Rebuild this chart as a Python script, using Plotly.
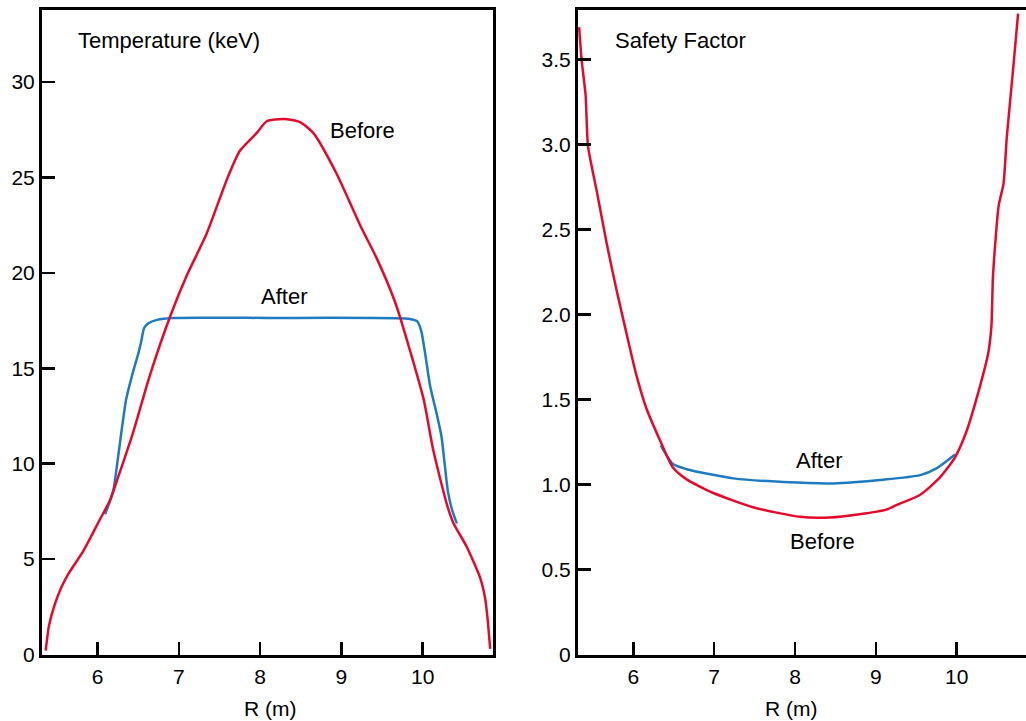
import plotly.graph_objects as go

# ---- data ----
temp_before_r = [5.36, 5.40, 5.47, 5.55, 5.65, 5.82, 6.03, 6.15, 6.25, 6.44, 6.64, 6.89, 7.10, 7.34,
                 7.59, 7.75, 7.96, 8.08, 8.29, 8.49, 8.65, 8.94, 9.23, 9.43, 9.64, 9.72, 10.01, 10.13,
                 10.30, 10.38, 10.54, 10.71, 10.77, 10.80, 10.83]
temp_before = [0.2, 1.5, 2.6, 3.5, 4.3, 5.4, 7.1, 8.07, 9.28, 11.7, 14.6, 17.7, 19.9, 22.05,
               24.9, 26.4, 27.35, 27.95, 28.07, 27.9, 27.35, 25.2, 22.5, 20.8, 18.7, 17.7, 13.4, 10.7,
               7.83, 6.87, 5.66, 3.98, 2.9, 1.8, 0.3]

temp_after_r = [6.09, 6.19, 6.24, 6.30, 6.35, 6.42, 6.50, 6.54, 6.57, 6.62, 6.73, 6.93, 8.08, 9.84,
                9.93, 9.98, 10.03, 10.09, 10.17, 10.23, 10.27, 10.31, 10.36, 10.42]
temp_after = [7.35, 8.55, 10.0, 11.93, 13.37, 14.58, 15.78, 16.5, 17.1, 17.35, 17.54, 17.64, 17.64, 17.59,
              17.47, 16.99, 15.78, 14.1, 12.65, 11.45, 10.0, 8.55, 7.59, 6.87]

q_before_r = [5.33, 5.36, 5.41, 5.44, 5.55, 5.67, 5.79, 5.92, 6.04, 6.16, 6.33, 6.49, 6.66, 6.99,
              7.48, 8.06, 8.43, 8.80, 9.13, 9.26, 9.55, 9.79, 9.98, 10.12, 10.29, 10.39, 10.43,
              10.45, 10.52, 10.58, 10.62, 10.70, 10.76]
q_before = [3.69, 3.50, 3.29, 2.99, 2.72, 2.42, 2.15, 1.88, 1.64, 1.45, 1.26, 1.10, 1.03, 0.95,
            0.866, 0.81, 0.806, 0.825, 0.852, 0.88, 0.94, 1.04, 1.16, 1.31, 1.58, 1.77, 1.93,
            2.23, 2.64, 2.77, 3.04, 3.45, 3.77]

q_after_r = [6.34, 6.49, 6.66, 7.24, 7.86, 8.47, 9.09, 9.55, 9.75, 9.98]
q_after = [1.23, 1.12, 1.09, 1.036, 1.014, 1.006, 1.028, 1.055, 1.095, 1.177]

x_ticks = [6, 7, 8, 9, 10]
temp_ticks = [0, 5, 10, 15, 20, 25, 30]
q_ticks = [0, 0.5, 1.0, 1.5, 2.0, 2.5, 3.0, 3.5]
q_tick_text = ["0", "0.5", "1.0", "1.5", "2.0", "2.5", "3.0", "3.5"]

RED = "#e4092d"
BLUE = "#1f7bc0"
FONT = "Liberation Sans, Arial, Helvetica, sans-serif"
FS_TICK = 21
FS_TXT = 22

W, H = 1026, 721

fig = go.Figure()
fig.add_trace(go.Scatter(x=temp_after_r, y=temp_after, mode="lines",
                         line=dict(color=BLUE, width=2.5, shape="spline", smoothing=0.6),
                         xaxis="x", yaxis="y", showlegend=False))
fig.add_trace(go.Scatter(x=temp_before_r, y=temp_before, mode="lines",
                         line=dict(color=RED, width=2.5, shape="spline", smoothing=0.6),
                         xaxis="x", yaxis="y", showlegend=False))
fig.add_trace(go.Scatter(x=q_after_r, y=q_after, mode="lines",
                         line=dict(color=BLUE, width=2.5, shape="spline", smoothing=0.6),
                         xaxis="x2", yaxis="y2", showlegend=False))
fig.add_trace(go.Scatter(x=q_before_r, y=q_before, mode="lines",
                         line=dict(color=RED, width=2.5, shape="spline", smoothing=0.6),
                         xaxis="x2", yaxis="y2", showlegend=False))

y_dom = [1 - 654.5 / H, 1 - 10 / H]

common_axis = dict(showgrid=False, zeroline=False, showline=True, linecolor="black", linewidth=3,
                   ticks="inside", ticklen=13, tickwidth=2.5, tickcolor="black", automargin=False,
                   tickfont=dict(family=FONT, size=FS_TICK, color="black"))

fig.update_layout(
    width=W, height=H, margin=dict(l=0, r=0, t=0, b=0, autoexpand=False),
    paper_bgcolor="white", plot_bgcolor="white",
    font=dict(family=FONT, size=FS_TXT, color="black"),
    xaxis=dict(domain=[42 / W, 493 / W], range=[5.3145, 10.865], tickvals=x_ticks, mirror=True,
               anchor="y", ticklabelstandoff=1, **common_axis),
    yaxis=dict(domain=y_dom, range=[0, 33.78], tickvals=temp_ticks, mirror=True, anchor="x",
               **common_axis),
    xaxis2=dict(domain=[578 / W, 1.0], range=[5.316, 10.858], tickvals=x_ticks, mirror=True,
                anchor="y2", ticklabelstandoff=1, **common_axis),
    yaxis2=dict(domain=y_dom, range=[0, 3.791], tickvals=q_ticks, ticktext=q_tick_text,
                mirror=False, anchor="x2", **common_axis),
    annotations=[
        dict(text="R (m)", x=8.12, y=1 - 708 / H, xref="x", yref="paper", showarrow=False,
             yanchor="middle", font=dict(family=FONT, size=FS_TICK)),
        dict(text="R (m)", x=7.95, y=1 - 708 / H, xref="x2", yref="paper", showarrow=False,
             yanchor="middle", font=dict(family=FONT, size=FS_TICK)),
        dict(text="Temperature (keV)", x=5.733, y=32.19, xref="x", yref="y", xanchor="left",
             yanchor="middle", showarrow=False, font=dict(family=FONT, size=FS_TXT)),
        dict(text="Before", x=9.253, y=27.47, xref="x", yref="y", showarrow=False,
             font=dict(family=FONT, size=FS_TXT)),
        dict(text="After", x=8.293, y=18.77, xref="x", yref="y", showarrow=False,
             font=dict(family=FONT, size=FS_TXT)),
        dict(text="Safety Factor", x=5.748, y=3.613, xref="x2", yref="y2", xanchor="left",
             yanchor="middle", showarrow=False, font=dict(family=FONT, size=FS_TXT)),
        dict(text="After", x=8.297, y=1.142, xref="x2", yref="y2", showarrow=False,
             font=dict(family=FONT, size=FS_TXT)),
        dict(text="Before", x=8.335, y=0.666, xref="x2", yref="y2", showarrow=False,
             font=dict(family=FONT, size=FS_TXT)),
    ],
)

fig.write_html("out.html", config={"displayModeBar": False, "staticPlot": True},
               post_script="document.body.style.margin='0';")
